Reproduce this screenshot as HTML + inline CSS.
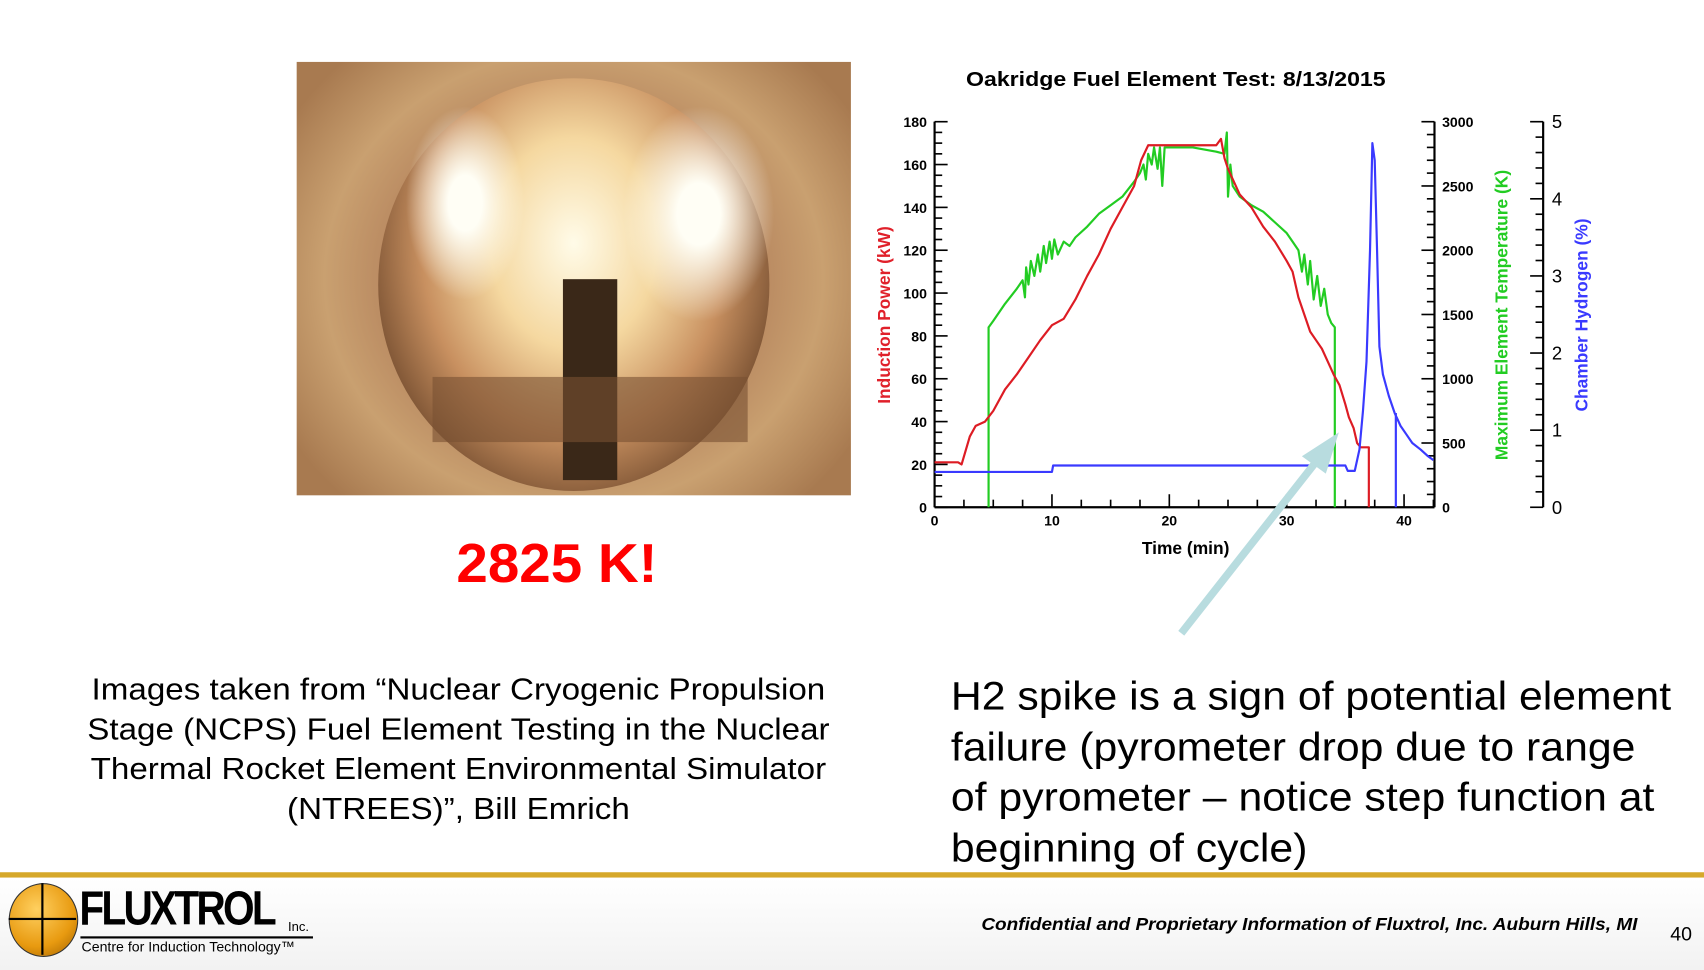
<!DOCTYPE html>
<html><head><meta charset="utf-8"><style>
html,body{margin:0;padding:0;width:1704px;height:970px;overflow:hidden;background:#fff}
#s{position:absolute;left:0;top:0;width:1568px;height:893px;transform-origin:0 0;transform:scale(1.08673,1.08623);font-family:"Liberation Sans",Arial,sans-serif}
.t{position:absolute;white-space:nowrap}
</style></head><body><div id="s">
<div style="position:absolute;left:273px;top:57px;width:510px;height:399px;overflow:hidden;background:radial-gradient(ellipse 60% 70% at 50% 50%,#7a5030 0%,#b88860 55%,#c9a070 75%,#a87a50 100%)">
 <div style="position:absolute;left:75px;top:15px;width:360px;height:380px;border-radius:50%;background:radial-gradient(ellipse at 50% 40%,#fffbe8 0%,#f5d8a0 30%,#c89060 55%,#5a3820 85%,#3a2414 100%)"></div>
 <div style="position:absolute;left:100px;top:40px;width:110px;height:180px;border-radius:40%;background:radial-gradient(#fffef5 20%,rgba(255,240,200,0) 70%)"></div>
 <div style="position:absolute;left:300px;top:40px;width:140px;height:200px;border-radius:40%;background:radial-gradient(#fffef5 20%,rgba(255,240,200,0) 70%)"></div>
 <div style="position:absolute;left:245px;top:200px;width:50px;height:185px;background:#3a2818"></div>
 <div style="position:absolute;left:125px;top:290px;width:290px;height:60px;background:rgba(120,80,50,.6)"></div>
</div>
<div class="t" style="left:420px;top:490px;font-size:50px;font-weight:bold;color:#f00;transform:scaleX(1.04);transform-origin:0 0">2825 K!</div>
<div class="t" style="left:0px;top:617px;width:774px;text-align:center;font-size:28px;line-height:36.5px;color:#000;transform:scaleX(1.09);transform-origin:0 0">Images taken from “Nuclear Cryogenic Propulsion<br>Stage (NCPS) Fuel Element Testing in the Nuclear<br>Thermal Rocket Element Environmental Simulator<br>(NTREES)”, Bill Emrich</div>
<div class="t" style="left:875px;top:618px;font-size:36.5px;line-height:46.5px;color:#000;transform:scaleX(1.078);transform-origin:0 0">H2 spike is a sign of potential element<br>failure (pyrometer drop due to range<br>of pyrometer – notice step function at<br>beginning of cycle)</div>
<div style="position:absolute;left:0;top:803px;width:1568px;height:5px;background:#d6a82a"></div>
<div style="position:absolute;left:0;top:808px;width:1568px;height:85px;background:linear-gradient(#fff,#f2f2f2)"></div>
<div style="position:absolute;left:8px;top:813px;width:62px;height:66px;border-radius:50%;background:radial-gradient(circle at 40% 35%,#ffd060,#e89a10 60%,#a06000);border:1px solid #333"></div>
<div style="position:absolute;left:8px;top:845px;width:62px;height:2px;background:#000"></div>
<div style="position:absolute;left:38px;top:813px;width:2px;height:66px;background:#000"></div>
<div class="t" style="left:73px;top:812px;font-size:44px;font-weight:bold;letter-spacing:-3px;transform:scaleX(.85);transform-origin:0 0">FLUXTROL</div>
<div class="t" style="left:265px;top:846px;font-size:12px">Inc.</div>
<div style="position:absolute;left:74px;top:862px;width:214px;height:1.5px;background:#000"></div>
<div class="t" style="left:75px;top:864px;font-size:13px">Centre for Induction Technology™</div>
<div class="t" style="left:903px;top:842px;font-size:16.5px;font-weight:bold;font-style:italic;transform:scaleX(1.06);transform-origin:0 0">Confidential and Proprietary Information of Fluxtrol, Inc. Auburn Hills, MI</div>
<div class="t" style="left:1537px;top:850px;font-size:18px">40</div>
<svg style="position:absolute;left:0;top:0" width="1568" height="893">
<text x="1082" y="79" text-anchor="middle" font-size="19" font-weight="bold" font-family="Liberation Sans" transform="translate(1082,0) scale(1.12,1) translate(-1082,0)">Oakridge Fuel Element Test:  8/13/2015</text>
<g id="ax" stroke="#000" fill="none"></g>
<g font-family="Liberation Sans" font-size="13" font-weight="bold" id="lb"></g>
<text x="1091" y="510" text-anchor="middle" font-size="16" font-weight="bold" font-family="Liberation Sans">Time (min)</text>
<text transform="translate(819,290) rotate(-90)" text-anchor="middle" font-size="16" font-weight="bold" fill="#e0202a" font-family="Liberation Sans">Induction Power (kW)</text>
<text transform="translate(1387,290) rotate(-90)" text-anchor="middle" font-size="16" font-weight="bold" fill="#22cc22" font-family="Liberation Sans">Maximum Element Temperature (K)</text>
<text transform="translate(1461,290) rotate(-90)" text-anchor="middle" font-size="16" font-weight="bold" fill="#3a3aff" font-family="Liberation Sans">Chamber Hydrogen (%)</text>
<g transform="translate(860,467) scale(10.8,-1.972)" fill="none" stroke-width="2" stroke-linejoin="round">
<polyline vector-effect="non-scaling-stroke" stroke="#22cc22" points="4.6,0 4.6,84 5,87 6,95 7,102 7.5,106 7.7,98 7.8,112 8,104 8.2,115 8.5,108 8.8,118 9,110 9.3,122 9.5,114 9.8,124 10,116 10.2,125 10.5,118 11,124 11.5,122 12,126 13,131 14,137 15,141 16,145 17,152 17.5,156 17.8,160 18,153 18.2,165 18.5,160 18.7,168 19,158 19.2,168 19.4,150 19.6,168 20,168 22,168 24,166 24.7,165 24.9,175 25,145 25.2,160 25.4,150 26,145 27,141 28,138 29,133 30,128 30.5,124 31,120 31.3,110 31.5,118 31.8,104 32,115 32.3,97 32.6,108 32.9,94 33.2,102 33.5,90 33.8,86 34.1,84 34.1,0"/>
<polyline vector-effect="non-scaling-stroke" stroke="#dd1c24" points="0,21 2,21 2.3,20 3,33 3.5,38 4.3,40 5,45 6,55 7,62 8,70 9,78 10,85 11,88 12,97 13,108 14,118 15,130 16,140 17,150 17.6,162 18.2,169 24,169 24.4,172 24.7,163 25,158 25.5,152 26,146 27,140 28,131 29,124 30,115 30.5,110 31,98 31.5,90 32,82 32.5,78 33,74 33.5,68 34,62 34.5,57 35,48 35.3,42 35.7,37 36,30 36.3,28 37,28 37,0"/>
<polyline vector-effect="non-scaling-stroke" stroke="#3a3aff" points="0,16.5 10,16.5 10.1,19.5 35,19.5 35.2,17 35.8,17 36.2,27 36.5,45 36.8,68 37.1,120 37.3,170 37.5,162 37.7,120 37.9,75 38.2,62 38.7,52 39.2,44 39.7,38 40.2,34 40.7,30 41.4,27 42,24 42.5,22"/>
<polyline vector-effect="non-scaling-stroke" stroke="#3a3aff" points="39.3,44 39.3,0"/>
</g>
<line x1="1087" y1="583" x2="1215" y2="420" stroke="#b8dcdf" stroke-width="7"/>
<polygon points="1232,398 1198,420 1220,436" fill="#b8dcdf"/>
</svg>
<script>
var ax=document.getElementById('ax'),lb=document.getElementById('lb'),h='',l='';
function L(a,b,c,d,w){h+='<line x1="'+a+'" y1="'+b+'" x2="'+c+'" y2="'+d+'" stroke-width="'+(w||1.5)+'"/>';}
function T(x,y,s,a,c){l+='<text x="'+x+'" y="'+y+'" text-anchor="'+a+'" fill="'+(c||'#000')+'">'+s+'</text>';}
L(860,112,860,467,2);L(860,467,1320,467,2);L(1320,112,1320,467,2);L(1420,112,1420,467,2);
for(var v=0;v<=180;v+=5){var y=467-1.972*v;L(860,y,v%20==0?872:867,y);if(v%20==0)T(853,y+5,v,'end');}
for(var t=0;t<=42.5;t+=2.5){var x=860+10.8*t;L(x,467,x,t%10==0?455:460);if(t%10==0)T(x,484,t,'middle');}
for(var k=0;k<=3000;k+=100){var y=467-k*0.06*1.972;L(1320,y,k%500==0?1308:1313,y);if(k%500==0)T(1327,y+5,k,'start');}
for(var p=0;p<=5.001;p+=0.2){var y=467-p*36*1.972;var m=Math.abs(p-Math.round(p))<0.01;L(1420,y,m?1408:1413,y);if(m)T(1428,y+6,Math.round(p),'start');}
ax.innerHTML=h;lb.innerHTML=l;
lb.querySelectorAll('text').forEach(function(e){if(+e.getAttribute('x')>1420)e.setAttribute('font-size','17'),e.setAttribute('font-weight','normal');});
</script>
</div></body></html>
